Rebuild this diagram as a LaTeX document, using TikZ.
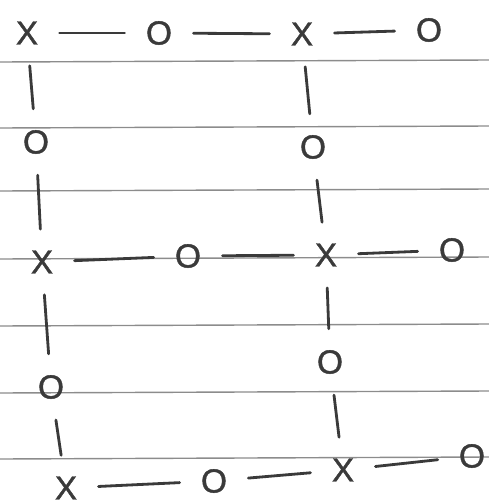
\documentclass[tikz,border=0pt]{standalone}
\usepackage{fontspec}
\setmainfont{Liberation Sans}
\newfontfamily\handfont{Liberation Sans}[FakeBold=1.2]
\usepackage{xcolor}
\usepackage{tikz}

\definecolor{ink}{HTML}{3A3A3A}
\definecolor{ruling}{HTML}{8C8C8C}

\begin{document}
\begin{tikzpicture}[x=0.02cm, y=-0.02cm,
        sym/.style={text=ink, font=\handfont\fontsize{19}{19}\selectfont, inner sep=1pt},
        link/.style={draw=ink, line width=1.6pt, line cap=round, shorten >=11pt, shorten <=11pt}]
        \useasboundingbox (0,0) rectangle (489,504);

        % Draw the ruled paper
        \foreach \y in {61,127,190,258,325,392,458}
            \draw[ruling, line width=0.8pt] (0,\y+1) -- (489,\y-1);

        % Add top row
        \node[sym] (a1) at (27,33) {X};
        \node[sym] (a2) at (159,33) {O};
        \node[sym] (a3) at (302,34) {X};
        \node[sym] (a4) at (429,30) {O};

        % Add middle row
        \node[sym] (c1) at (42,262) {X};
        \node[sym] (c2) at (188,256) {O};
        \node[sym] (c3) at (326,255) {X};
        \node[sym] (c4) at (452,250) {O};

        % Add bottom row
        \node[sym] (e1) at (66,488) {X};
        \node[sym] (e2) at (214,481) {O};
        \node[sym] (e3) at (343,470) {X};
        \node[sym] (e4) at (472,456) {O};

        % Add the columns in between
        \node[sym] (b1) at (36,142) {O};
        \node[sym] (d1) at (51,387) {O};
        \node[sym] (b3) at (313,147) {O};
        \node[sym] (d3) at (330,362) {O};

        % Connect along the rows
        \draw[link] (a1) -- (a2);
        \draw[link] (a2) -- (a3);
        \draw[link] (a3) -- (a4);
        \draw[link] (c1) -- (c2);
        \draw[link] (c2) -- (c3);
        \draw[link] (c3) -- (c4);
        \draw[link] (e1) -- (e2);
        \draw[link] (e2) -- (e3);
        \draw[link] (e3) -- (e4);

        % Connect down the columns
        \draw[link] (a1) -- (b1);
        \draw[link] (b1) -- (c1);
        \draw[link] (c1) -- (d1);
        \draw[link] (d1) -- (e1);
        \draw[link] (a3) -- (b3);
        \draw[link] (b3) -- (c3);
        \draw[link] (c3) -- (d3);
        \draw[link] (d3) -- (e3);
    \end{tikzpicture}
\end{document}
